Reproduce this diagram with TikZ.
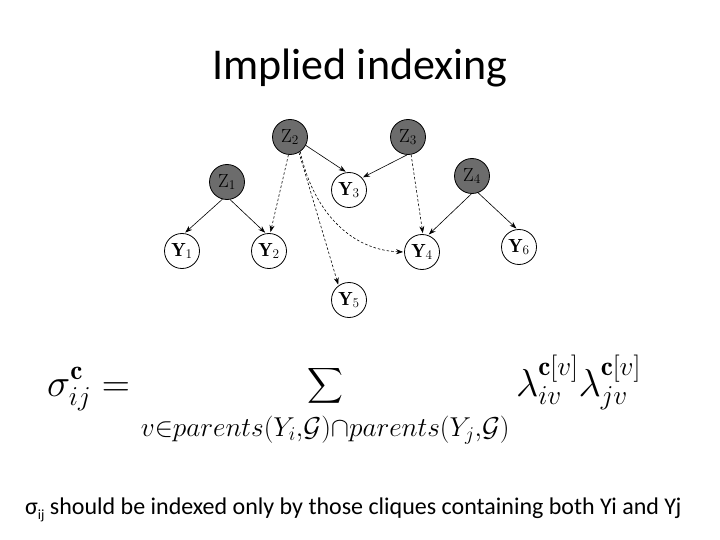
\RequirePackage{fix-cm}
\documentclass[tikz,border=0pt]{standalone}
\usepackage{exscale}
\usepackage{fontspec}
\newfontfamily\carlito{Carlito}
\usetikzlibrary{arrows.meta}
\definecolor{zgray}{RGB}{108,108,108}
\tikzset{
  znode/.style={circle, draw=black, line width=0.8pt, fill=zgray, minimum size=35pt, inner sep=0pt, font=\fontsize{19}{21}\selectfont},
  ynode/.style={circle, draw=black, line width=0.8pt, fill=white, minimum size=35pt, inner sep=0pt, font=\fontsize{19}{21}\selectfont},
  edge/.style={line width=0.6pt, -{Stealth[length=7pt,width=5pt]}, shorten >=1pt},
  dedge/.style={edge, dash pattern=on 2.5pt off 2pt}
}
\begin{document}
\begin{tikzpicture}[x=1pt,y=-1pt]
\useasboundingbox (0,0) rectangle (720,540);
% title
\node[anchor=base, inner sep=0pt, font=\carlito\fontsize{44}{50}\selectfont] (title) at (360,80) {Implied indexing};
% nodes
\node[znode] (Z1) at (227,182) {$\mathrm{Z}_1$};
\node[znode] (Z2) at (290,137) {$\mathrm{Z}_2$};
\node[znode] (Z3) at (408,137) {$\mathrm{Z}_3$};
\node[znode] (Z4) at (472,176) {$\mathrm{Z}_4$};
\node[ynode] (Y1) at (182,251) {$\mathbf{Y}_1$};
\node[ynode] (Y2) at (269,251) {$\mathbf{Y}_2$};
\node[ynode] (Y3) at (349,190) {$\mathbf{Y}_3$};
\node[ynode] (Y4) at (422,252) {$\mathbf{Y}_4$};
\node[ynode] (Y5) at (349,300) {$\mathbf{Y}_5$};
\node[ynode] (Y6) at (519,247) {$\mathbf{Y}_6$};
% edges
\draw[edge] (Z1.-105) -- (Y1.82);
\draw[edge] (Z1.-80) -- (Y2.100);
\draw[dedge] (Z2.-95) -- (Y2.86);
\draw[dedge] (Z2.-60) -- (Y5.126);
\draw[edge] (Z2.-28) -- (Y3.98);
\draw[dedge] (Z2.-55) to[out=-78,in=178] (Y4.west);
\draw[edge] (Z3.-93) -- (Y3.43);
\draw[dedge] (Z3.-80) -- (Y4.87);
\draw[edge] (Z4.-92) -- (Y4.70);
\draw[edge] (Z4.-70) -- (Y6.96);
% formula
\node[anchor=base west, inner sep=0pt, font=\fontsize{39}{45}\selectfont] (formula) at (47,396)
  {$\displaystyle \sigma^{\mathbf{c}}_{ij} = \sum_{\vrule height 26pt width 0pt v\in parents(Y_i,\mathcal{G})\cap parents(Y_j,\mathcal{G})} \lambda^{\mathbf{c}[v]}_{iv}\lambda^{\mathbf{c}[v]}_{jv}$};
% bottom text
\node[anchor=base west, inner sep=0pt, font=\carlito\fontsize{24}{28}\selectfont] (note) at (25,514)
  {σ\raisebox{-5pt}{\fontsize{14}{16}\selectfont ij} should be indexed only by those cliques containing both Yi and Yj};
\end{tikzpicture}
\end{document}
